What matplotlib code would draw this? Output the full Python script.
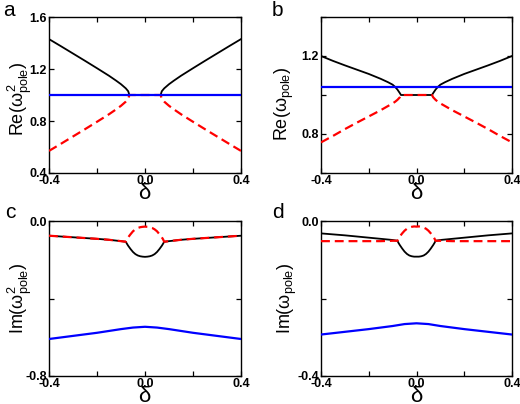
import numpy as np
import matplotlib
matplotlib.use("Agg")
import matplotlib.pyplot as plt
from matplotlib.ticker import MultipleLocator, FixedLocator

plt.rcParams["font.family"] = ["Liberation Sans", "DejaVu Sans"]
plt.rcParams["mathtext.fontset"] = "custom"
plt.rcParams["mathtext.rm"] = "Liberation Sans"
plt.rcParams["mathtext.it"] = "Liberation Sans"

# %% data (delta on x)
# panel a: Re(w^2)
a_x = [-0.4, -0.35, -0.3, -0.25, -0.2, -0.15, -0.12, -0.1, -0.08, -0.07, -0.065,
       0.065, 0.07, 0.08, 0.1, 0.12, 0.15, 0.2, 0.25, 0.3, 0.35, 0.4]
a_black = [1.43, 1.375, 1.319, 1.263, 1.206, 1.148, 1.110, 1.083, 1.051, 1.029, 1.0,
           1.0, 1.029, 1.051, 1.083, 1.110, 1.148, 1.206, 1.263, 1.319, 1.375, 1.43]
a_red = [0.57, 0.625, 0.681, 0.737, 0.794, 0.852, 0.890, 0.917, 0.949, 0.971, 1.0,
         1.0, 0.971, 0.949, 0.917, 0.890, 0.852, 0.794, 0.737, 0.681, 0.625, 0.57]
a_blue_x = [-0.4, 0.4]
a_blue = [1.0, 1.0]

# panel b: Re(w)
b_x = [-0.4, -0.35, -0.3, -0.25, -0.2, -0.15, -0.12, -0.1, -0.09, -0.08, -0.07, -0.065,
       0.065, 0.07, 0.08, 0.09, 0.1, 0.12, 0.15, 0.2, 0.25, 0.3, 0.35, 0.4]
b_black = [1.2, 1.175, 1.152, 1.13, 1.108, 1.083, 1.066, 1.053, 1.042, 1.028, 1.01, 1.0,
           1.0, 1.01, 1.028, 1.042, 1.053, 1.066, 1.083, 1.108, 1.13, 1.152, 1.175, 1.2]
b_red = [0.757, 0.79, 0.825, 0.858, 0.89, 0.922, 0.943, 0.957, 0.965, 0.975, 0.988, 1.0,
         1.0, 0.988, 0.975, 0.965, 0.957, 0.943, 0.922, 0.89, 0.858, 0.825, 0.79, 0.757]
b_blue_x = [-0.4, 0.4]
b_blue = [1.04, 1.04]

# panels c, d share one delta grid
cd_x = [-0.4, -0.3, -0.2, -0.15, -0.1, -0.08, -0.075, -0.07, -0.06, -0.05, -0.04,
        -0.03, -0.02, -0.01, 0.0, 0.01, 0.02, 0.03, 0.04, 0.05, 0.06, 0.07, 0.075,
        0.08, 0.1, 0.15, 0.2, 0.3, 0.4]
# panel c: Im(w^2)
c_black = [-0.076, -0.084, -0.092, -0.097, -0.104, -0.107, -0.118, -0.128, -0.145, -0.160,
           -0.171, -0.178, -0.182, -0.184, -0.185, -0.184, -0.182, -0.178, -0.171, -0.160,
           -0.145, -0.128, -0.118, -0.107, -0.104, -0.097, -0.092, -0.084, -0.076]
c_red = [-0.076, -0.084, -0.092, -0.097, -0.104, -0.107, -0.094, -0.084, -0.068, -0.053,
         -0.043, -0.036, -0.032, -0.030, -0.029, -0.030, -0.032, -0.036, -0.043, -0.053,
         -0.068, -0.084, -0.094, -0.107, -0.104, -0.097, -0.092, -0.084, -0.076]
c_blue_x = [-0.4, -0.3, -0.2, -0.1, -0.05, 0.0, 0.05, 0.1, 0.2, 0.3, 0.4]
c_blue = [-0.609, -0.593, -0.577, -0.558, -0.550, -0.546, -0.550, -0.558, -0.577, -0.593, -0.609]

# panel d: Im(w)
d_black = [-0.032, -0.037, -0.043, -0.046, -0.049, -0.051, -0.057, -0.062, -0.071, -0.079,
           -0.085, -0.089, -0.091, -0.092, -0.092, -0.092, -0.091, -0.089, -0.085, -0.079,
           -0.071, -0.062, -0.057, -0.051, -0.049, -0.046, -0.043, -0.037, -0.032]
d_red = [-0.052, -0.052, -0.052, -0.052, -0.051, -0.051, -0.045, -0.040, -0.032, -0.025,
         -0.020, -0.017, -0.015, -0.014, -0.0145, -0.014, -0.015, -0.017, -0.020, -0.025,
         -0.032, -0.040, -0.045, -0.051, -0.051, -0.052, -0.052, -0.052, -0.052]
d_blue_x = [-0.4, -0.3, -0.2, -0.1, -0.05, 0.0, 0.05, 0.1, 0.2, 0.3, 0.4]
d_blue = [-0.293, -0.286, -0.279, -0.271, -0.266, -0.264, -0.266, -0.271, -0.279, -0.286, -0.293]

panels = [
    ("a", a_x, a_black, a_red, a_blue_x, a_blue, (0.4, 1.6), [0.4, 0.8, 1.2, 1.6], None,
     r"Re($\omega^2_{\rm pole}$)"),
    ("b", b_x, b_black, b_red, b_blue_x, b_blue, (0.6, 1.4), [0.8, 1.2], 0.2,
     r"Re($\omega_{\rm pole}$)"),
    ("c", cd_x, c_black, c_red, c_blue_x, c_blue, (-0.8, 0.0), [-0.8, 0.0], 0.4,
     r"Im($\omega^2_{\rm pole}$)"),
    ("d", cd_x, d_black, d_red, d_blue_x, d_blue, (-0.4, 0.0), [-0.4, 0.0], 0.2,
     r"Im($\omega_{\rm pole}$)"),
]

W, H = 520, 404
boxes = [(49, 17, 241, 173), (321, 17, 512, 173), (49, 221, 241, 376), (321, 221, 512, 376)]
letters_xy = [(3, 1), (272, 1), (5, 203), (272, 203)]
# y-label: right edge (px) and vertical centre (px)
ylab_pos = [(34, 99), (296, 104), (34, 298), (299, 298)]

fig = plt.figure(figsize=(W / 100, H / 100), dpi=100)
for (letter, x, yk, yr, bx, by, ylim, yt, yminor, ylab), (l, t, r, b), (lx, ly), (yx, yy) in zip(
        panels, boxes, letters_xy, ylab_pos):
    aw, ah = r - l, b - t
    ax = fig.add_axes([l / W, 1 - b / H, aw / W, ah / H])
    ax.plot(x, yk, color="black", lw=1.3, zorder=2)
    ax.plot(x, yr, color="red", lw=1.6, ls=(0, (4, 2.2)), zorder=3)
    ax.plot(bx, by, color="blue", lw=1.6, zorder=4)
    ax.set_xlim(-0.4, 0.4)
    ax.set_ylim(*ylim)
    ax.xaxis.set_major_locator(FixedLocator([-0.4, 0.0, 0.4]))
    ax.xaxis.set_minor_locator(MultipleLocator(0.2))
    ax.yaxis.set_major_locator(FixedLocator(yt))
    if yminor:
        ax.yaxis.set_minor_locator(MultipleLocator(yminor))
    ax.set_xticklabels(["-0.4", "0.0", "0.4"])
    ax.set_yticklabels([f"{v:.1f}" for v in yt])
    ax.tick_params(which="both", direction="in", top=True, right=True, length=3.5,
                   width=0.9, labelsize=9, pad=1.5)
    for lab in ax.get_xticklabels() + ax.get_yticklabels():
        lab.set_fontweight("bold")
    for s in ax.spines.values():
        s.set_linewidth(1.0)
    ax.set_xlabel(r"$\delta$", fontsize=16)
    ax.xaxis.set_label_coords(0.5, -10 / ah)
    ax.set_ylabel(ylab, fontsize=13)
    ax.yaxis.set_label_coords((yx - l) / aw, 1 - (yy - t) / ah)
    fig.text(lx / W, 1 - ly / H, letter, fontsize=15, ha="left", va="top")

fig.savefig("out.png", dpi=100)
